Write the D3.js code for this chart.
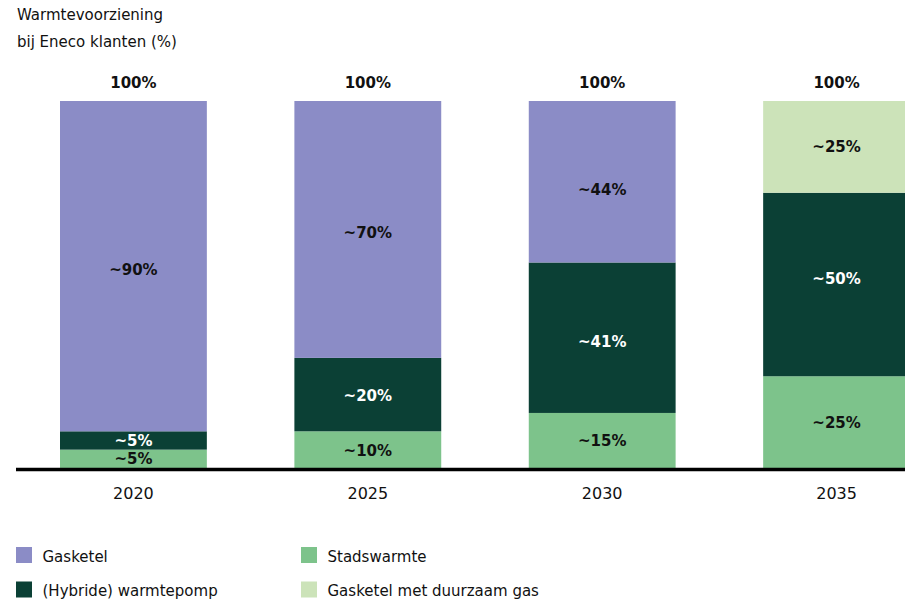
<!DOCTYPE html>
<html><head><meta charset="utf-8">
<script src="https://cdn.jsdelivr.net/npm/d3@7"></script>
<style>
html,body{margin:0;padding:0;background:#fff;}
svg{display:block;font-family:"DejaVu Sans",sans-serif;}
</style></head>
<body><svg id="c" width="905" height="601"></svg>
<script>
const years = ["2020","2025","2030","2035"];
const seriesNames = ["Stadswarmte","(Hybride) warmtepomp","Gasketel","Gasketel met duurzaam gas"];
const stadswarmte = [5,10,15,25];
const warmtepomp = [5,20,41,50];
const gasketel = [90,70,44,0];
const duurzaamGas = [0,0,0,25];
const totals = ["100%","100%","100%","100%"];
const colors = ["#7dc38b","#0b4035","#8b8cc6","#cce3b9"];
const labelColors = ["#111","#fff","#111","#111"];
const legendOrder = ["Gasketel","Stadswarmte","(Hybride) warmtepomp","Gasketel met duurzaam gas"];

const svg = d3.select("#c");
const x = d3.scaleBand().domain(years).range([60,910]).paddingInner(0.3735).paddingOuter(0);
const y = d3.scaleLinear().domain([0,100]).range([468,101]);

// small hand-placement nudges of the in-bar labels (px), as in the original
const nudge = {"Gasketel|2020":3,"Gasketel|2025":3.5,"Gasketel|2030":8,
  "(Hybride) warmtepomp|2030":4,"(Hybride) warmtepomp|2035":-6,"(Hybride) warmtepomp|2025":1,
  "Stadswarmte|2025":1};

const rows = years.map((yr,i)=>({year:yr,
  "Stadswarmte":stadswarmte[i],"(Hybride) warmtepomp":warmtepomp[i],
  "Gasketel":gasketel[i],"Gasketel met duurzaam gas":duurzaamGas[i]}));
const stack = d3.stack().keys(seriesNames)(rows);

// title
const t = svg.append("text").attr("x",17).attr("font-size",15).attr("fill","#111");
t.append("tspan").attr("x",17).attr("y",20).text("Warmtevoorziening");
t.append("tspan").attr("x",17).attr("y",47).text("bij Eneco klanten (%)");

stack.forEach((s,si)=>{
  const key = s.key;
  const g = svg.append("g");
  g.selectAll("rect").data(s.filter(d=>d[1]-d[0]>0)).join("rect")
    .attr("x",d=>x(d.data.year)).attr("width",x.bandwidth())
    .attr("y",d=>y(d[1])).attr("height",d=>y(d[0])-y(d[1]))
    .attr("fill",colors[si]);
  g.selectAll("text").data(s.filter(d=>d[1]-d[0]>0)).join("text")
    .attr("x",d=>x(d.data.year)+x.bandwidth()/2)
    .attr("y",d=>(y(d[0])+y(d[1]))/2+5.5+(nudge[key+"|"+d.data.year]||0))
    .attr("text-anchor","middle").attr("font-size",15).attr("font-weight","bold")
    .attr("fill",labelColors[si])
    .text(d=>"~"+(d[1]-d[0])+"%");
});

// totals
svg.selectAll("text.tot").data(years).join("text").attr("class","tot")
  .attr("x",d=>x(d)+x.bandwidth()/2).attr("y",88)
  .attr("text-anchor","middle").attr("font-size",15).attr("font-weight","bold").attr("fill","#111")
  .text((d,i)=>totals[i]);

// axis
const axis = svg.append("g").attr("transform","translate(0,469.5)")
  .call(d3.axisBottom(x).tickSize(0).tickPadding(18));
axis.select(".domain").remove();
axis.append("line").attr("x1",16).attr("x2",905).attr("stroke","#000").attr("stroke-width",3.5);
axis.selectAll(".tick text").attr("font-size",16).attr("font-family","DejaVu Sans").attr("fill","#111");

// legend
const lg = svg.append("g");
legendOrder.forEach((name,i)=>{
  const col = i%2, row = Math.floor(i/2);
  const lx = col===0?16:301, ly = 547+row*34.5;
  lg.append("rect").attr("x",lx).attr("y",ly).attr("width",16).attr("height",16)
    .attr("fill",colors[seriesNames.indexOf(name)]);
  lg.append("text").attr("x",lx+26.5).attr("y",ly+14.5).attr("font-size",15).attr("fill","#111").text(name);
});
</script></body></html>
